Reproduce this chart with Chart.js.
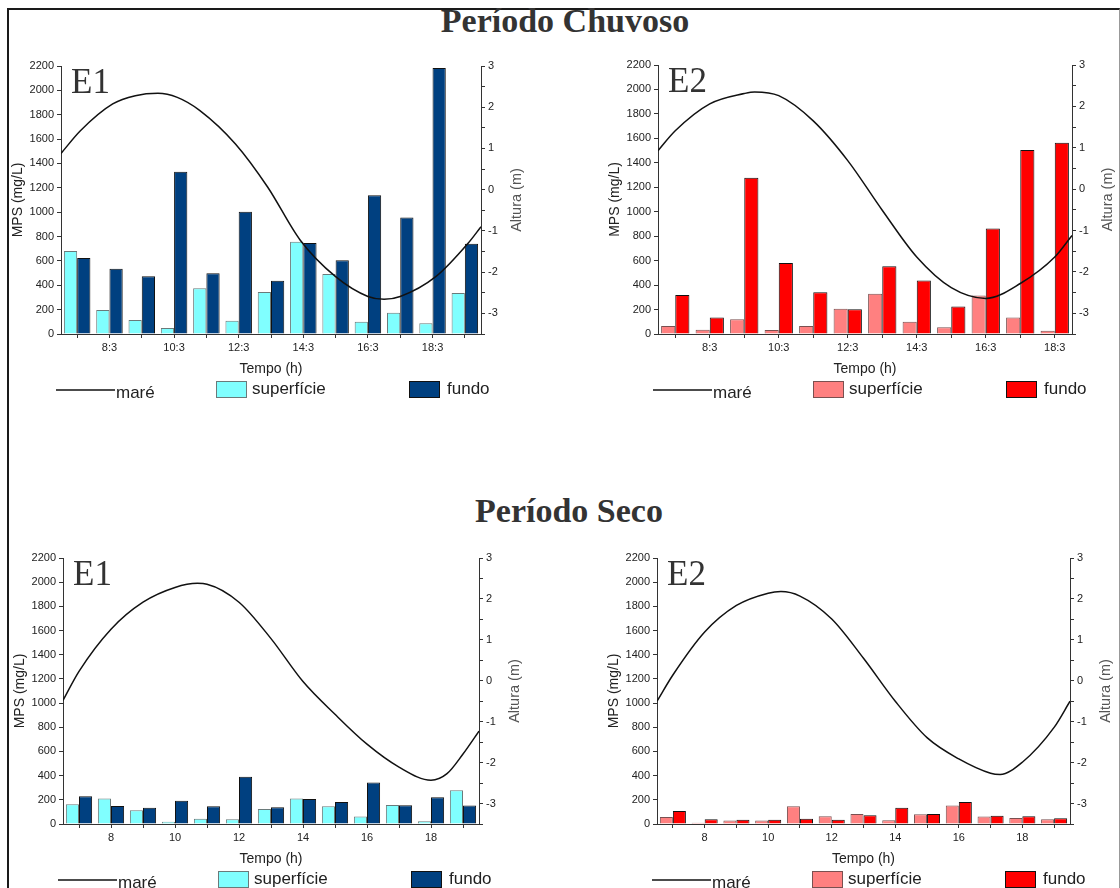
<!DOCTYPE html>
<html>
<head>
<meta charset="utf-8">
<script src="https://cdn.jsdelivr.net/npm/chart.js@4.4.1/dist/chart.umd.min.js"></script>
<style>
  body { margin: 0; width: 1120px; height: 888px; overflow: hidden; background: #fff; position: relative; }
  .moldura { position: absolute; left: 7px; top: 8px; width: 1110px; height: 1000px;
             border-top: 2px solid #1a1a1a; border-left: 2px solid #1a1a1a; border-right: 1px solid #999; }
  .periodo { position: absolute; left: 0; width: 1130px; text-align: center;
             font: bold 34px "Liberation Serif", "Times New Roman", serif; line-height: 34px; color: #333; }
  canvas { position: absolute; }
</style>
</head>
<body>
<div class="moldura"></div>
<div class="periodo" style="top:4px">Período Chuvoso</div>
<div class="periodo" style="top:494px; left:4px">Período Seco</div>
<canvas id="chuvosoE1"></canvas>
<canvas id="chuvosoE2"></canvas>
<canvas id="secoE1"></canvas>
<canvas id="secoE2"></canvas>

<script>
// horários de coleta: posição (hora decimal) e rótulo do eixo x
const horasChuvosoE1 = [7.5, 8.5, 9.5, 10.5, 11.5, 12.5, 13.5, 14.5, 15.5, 16.5, 17.5, 18.5, 19.5];
const rotulosChuvosoE1 = ['7:3', '8:3', '9:3', '10:3', '11:3', '12:3', '13:3', '14:3', '15:3', '16:3', '17:3', '18:3', '19:3'];
const horasChuvosoE2 = [7.5, 8.5, 9.5, 10.5, 11.5, 12.5, 13.5, 14.5, 15.5, 16.5, 17.5, 18.5];
const rotulosChuvosoE2 = ['7:3', '8:3', '9:3', '10:3', '11:3', '12:3', '13:3', '14:3', '15:3', '16:3', '17:3', '18:3'];
const horasSeco = [7, 8, 9, 10, 11, 12, 13, 14, 15, 16, 17, 18, 19];
const rotulosSeco = ['7', '8', '9', '10', '11', '12', '13', '14', '15', '16', '17', '18', '19'];

// MPS (mg/L) - período chuvoso
const chuvosoE1Superficie = [681, 197, 115, 49, 375, 109, 345, 758, 492, 101, 175, 88, 336];
const chuvosoE1Fundo = [624, 536, 474, 1332, 498, 1003, 438, 748, 605, 1140, 957, 2183, 740];
const chuvosoE2Superficie = [65, 35, 120, 33, 65, 207, 330, 101, 55, 314, 134, 27];
const chuvosoE2Fundo = [319, 134, 1277, 581, 341, 202, 554, 437, 224, 862, 1504, 1564];

// MPS (mg/L) - período seco
const secoE1Superficie = [163, 210, 113, 19, 44, 39, 124, 210, 146, 61, 158, 22, 279];
const secoE1Fundo = [229, 149, 135, 193, 146, 390, 138, 207, 182, 343, 155, 221, 152];
const secoE2Superficie = [58, 11, 28, 28, 147, 64, 83, 30, 80, 152, 61, 50, 39];
const secoE2Fundo = [108, 39, 36, 36, 44, 36, 72, 135, 83, 182, 69, 64, 47];

// maré: hora decimal e altura (m)
const mareChuvosoE1Hora = [7.0, 7.6, 8.6, 9.3, 10.0, 10.6, 11.3, 12.4, 13.4, 14.4, 15.5, 16.5, 17.0, 17.5, 18.6, 19.6, 20.0];
const mareChuvosoE1Altura = [0.88, 1.43, 2.08, 2.28, 2.34, 2.24, 1.92, 1.11, 0.06, -1.22, -2.11, -2.59, -2.66, -2.59, -2.11, -1.30, -0.90];
const mareChuvosoE2Hora = [7.0, 7.5, 8.5, 9.5, 9.8, 10.5, 11.5, 12.5, 13.5, 14.5, 15.5, 16.5, 17.5, 18.5, 19.0];
const mareChuvosoE2Altura = [0.93, 1.41, 2.06, 2.31, 2.35, 2.26, 1.65, 0.69, -0.51, -1.64, -2.38, -2.64, -2.28, -1.64, -1.12];
const mareSecoE1Hora = [6.5, 7.0, 8.0, 9.0, 10.0, 10.7, 11.0, 12.0, 13.0, 14.0, 15.0, 16.0, 17.0, 18.0, 18.5, 19.0, 19.5];
const mareSecoE1Altura = [-0.48, 0.23, 1.26, 1.92, 2.28, 2.38, 2.36, 1.92, 1.03, -0.02, -0.82, -1.55, -2.11, -2.43, -2.27, -1.79, -1.23];
const mareSecoE2Hora = [6.5, 7.0, 8.0, 9.0, 10.0, 10.4, 11.0, 12.0, 13.0, 14.0, 15.0, 16.0, 17.0, 17.3, 18.0, 19.0, 19.5];
const mareSecoE2Altura = [-0.50, 0.14, 1.19, 1.84, 2.14, 2.18, 2.07, 1.51, 0.55, -0.50, -1.39, -1.91, -2.26, -2.29, -1.99, -1.14, -0.50];

const fonteEixo = '"Liberation Sans", Arial, sans-serif';
const corTexto = '#222';

// rótulo E1/E2, título do eixo direito e legenda inferior
const extrasPainel = {
  id: 'extrasPainel',
  afterDraw(chart, args, opts) {
    const { ctx, chartArea: a } = chart;
    const ds = chart.data.datasets;
    ctx.save();
    ctx.fillStyle = '#333';
    ctx.font = '35px "Liberation Serif", "Times New Roman", serif';
    ctx.textBaseline = 'alphabetic';
    ctx.textAlign = 'left';
    ctx.fillText(opts.estacao, a.left + 10, a.top + 27);

    ctx.save();
    ctx.translate(a.right + 36, (a.top + a.bottom) / 2);
    ctx.rotate(-Math.PI / 2);
    ctx.font = '14.5px ' + fonteEixo;
    ctx.fillStyle = '#555';
    ctx.textAlign = 'center';
    ctx.textBaseline = 'middle';
    ctx.fillText('Altura (m)', 0, 0);
    ctx.restore();

    const y = a.bottom + 56;
    const x0 = a.left;
    ctx.font = '17px ' + fonteEixo;
    ctx.fillStyle = corTexto;
    // maré
    ctx.strokeStyle = ds[2].borderColor;
    ctx.lineWidth = 1.5;
    ctx.beginPath();
    ctx.moveTo(x0 - 5, y);
    ctx.lineTo(x0 + 54, y);
    ctx.stroke();
    ctx.fillText(ds[2].label, x0 + 55, y + 8);
    // superfície e fundo
    [[0, 155, 191], [1, 348, 386]].forEach(([i, bx, tx]) => {
      ctx.fillStyle = ds[i].backgroundColor;
      ctx.fillRect(x0 + bx, y - 9, 31, 17);
      ctx.strokeStyle = ds[i].borderColor;
      ctx.lineWidth = 1;
      ctx.strokeRect(x0 + bx + 0.5, y - 8.5, 30, 16);
      ctx.fillStyle = corTexto;
      ctx.fillText(ds[i].label, x0 + tx, y + 4);
    });
    ctx.restore();
  }
};

function criarPainel(id, caixa, estacao, horas, rotulos, superficie, fundo, mareHora, mareAltura, cores, horaMin, horaMax) {
  const cv = document.getElementById(id);
  const w = 62 + (caixa.right - caixa.left) + 60;
  const h = 16 + (caixa.bottom - caixa.top) + 75;
  cv.width = w;
  cv.height = h;
  cv.style.left = (caixa.left - 62) + 'px';
  cv.style.top = (caixa.top - 16) + 'px';

  const marcas = {
    display: true,
    offset: false,
    drawOnChartArea: false,
    drawTicks: true,
    tickLength: 4,
    tickColor: '#333'
  };
  const borda = { display: true, color: '#333', width: 1 };
  const pares = vals => horas.map((x, i) => ({ x: x, y: vals[i] }));

  return new Chart(cv.getContext('2d'), {
    type: 'bar',
    data: {
      datasets: [
        {
          label: 'superfície',
          data: pares(superficie),
          backgroundColor: cores[0],
          borderColor: cores[2],
          borderWidth: 1,
          categoryPercentage: 0.82,
          barPercentage: 1.0,
          yAxisID: 'y',
          order: 1
        },
        {
          label: 'fundo',
          data: pares(fundo),
          backgroundColor: cores[1],
          borderColor: '#111',
          borderWidth: 1,
          categoryPercentage: 0.82,
          barPercentage: 1.0,
          yAxisID: 'y',
          order: 1
        },
        {
          type: 'line',
          label: 'maré',
          data: mareHora.map((x, i) => ({ x: x, y: mareAltura[i] })),
          yAxisID: 'y2',
          borderColor: '#111',
          borderWidth: 1.5,
          pointRadius: 0,
          cubicInterpolationMode: 'monotone',
          fill: false,
          order: 0
        }
      ]
    },
    options: {
      responsive: false,
      animation: false,
      layout: { padding: { top: 16, left: 0, right: 0, bottom: 5 } },
      plugins: {
        legend: { display: false },
        tooltip: { enabled: false },
        extrasPainel: { estacao: estacao }
      },
      scales: {
        x: {
          type: 'linear',
          min: horaMin,
          max: horaMax,
          offset: false,
          grid: marcas,
          border: borda,
          afterBuildTicks: s => { s.ticks = horas.map(v => ({ value: v })); },
          ticks: {
            autoSkip: false,
            maxRotation: 0,
            padding: 3,
            color: corTexto,
            font: { family: fonteEixo, size: 11 },
            callback: (v, i) => (i % 2 === 1 ? rotulos[i] : '')
          },
          title: {
            display: true,
            text: 'Tempo (h)',
            color: corTexto,
            font: { family: fonteEixo, size: 14 },
            padding: { top: 0, bottom: 26 }
          },
          afterFit: s => { s.height = 70; }
        },
        y: {
          position: 'left',
          min: 0,
          max: 2200,
          grid: marcas,
          border: borda,
          ticks: {
            stepSize: 100,
            padding: 3,
            color: corTexto,
            font: { family: fonteEixo, size: 11 },
            callback: v => (v % 200 === 0 ? v : '')
          },
          title: {
            display: true,
            text: 'MPS (mg/L)',
            color: corTexto,
            font: { family: fonteEixo, size: 14 },
            padding: { top: 11, bottom: 0 }
          },
          afterFit: s => { s.width = 62; }
        },
        y2: {
          position: 'right',
          min: -3.5,
          max: 3,
          grid: marcas,
          border: borda,
          ticks: {
            stepSize: 0.5,
            padding: 3,
            color: corTexto,
            font: { family: fonteEixo, size: 11 },
            callback: v => (Number.isInteger(v) ? v : '')
          },
          afterFit: s => { s.width = 60; }
        }
      }
    },
    plugins: [extrasPainel]
  });
}

const coresE1 = ['#80FFFF', '#004080', '#6a7a7a'];
const coresE2 = ['#FF8080', '#FF0000', '#7a5050'];

criarPainel('chuvosoE1', { left: 61, top: 66, right: 481, bottom: 334 }, 'E1',
  horasChuvosoE1, rotulosChuvosoE1, chuvosoE1Superficie, chuvosoE1Fundo,
  mareChuvosoE1Hora, mareChuvosoE1Altura, coresE1, 7, 20);
criarPainel('chuvosoE2', { left: 658, top: 65, right: 1072, bottom: 334 }, 'E2',
  horasChuvosoE2, rotulosChuvosoE2, chuvosoE2Superficie, chuvosoE2Fundo,
  mareChuvosoE2Hora, mareChuvosoE2Altura, coresE2, 7, 19);
criarPainel('secoE1', { left: 63, top: 558, right: 479, bottom: 824 }, 'E1',
  horasSeco, rotulosSeco, secoE1Superficie, secoE1Fundo,
  mareSecoE1Hora, mareSecoE1Altura, coresE1, 6.5, 19.5);
criarPainel('secoE2', { left: 657, top: 558, right: 1070, bottom: 824 }, 'E2',
  horasSeco, rotulosSeco, secoE2Superficie, secoE2Fundo,
  mareSecoE2Hora, mareSecoE2Altura, coresE2, 6.5, 19.5);
</script>
</body>
</html>
